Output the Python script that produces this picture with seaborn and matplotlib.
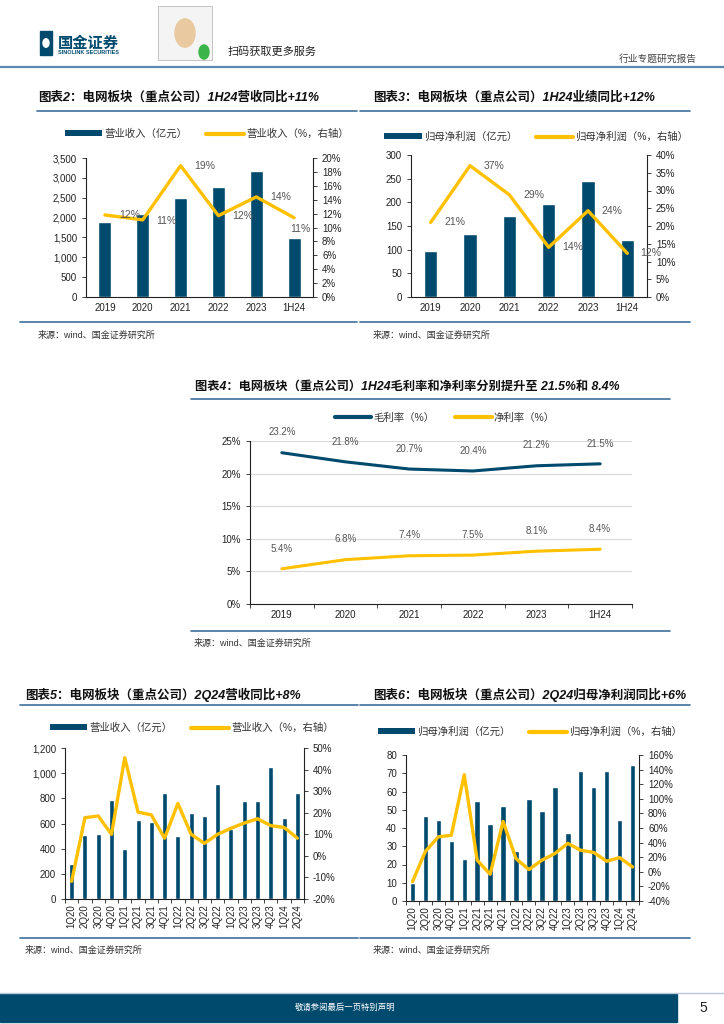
import numpy as np
import pandas as pd
import matplotlib
matplotlib.use("Agg")
import matplotlib.pyplot as plt
import seaborn as sns
from matplotlib.lines import Line2D
from matplotlib.patches import Patch, Rectangle, Circle
from matplotlib.ticker import FuncFormatter, MultipleLocator, FixedLocator

# data
years = ["2019", "2020", "2021", "2022", "2023", "1H24"]
rev = [1890, 2100, 2490, 2760, 3170, 1480]
rev_yoy = [11.8, 11.1, 18.9, 11.7, 14.4, 11.4]
np_val = [97, 134, 172, 196, 245, 120]
np_yoy = [21.0, 37.0, 28.8, 14.0, 24.3, 12.3]
gross_margin = [23.2, 21.8, 20.7, 20.4, 21.2, 21.5]
net_margin = [5.4, 6.8, 7.4, 7.5, 8.1, 8.4]

quarters = ["1Q20", "2Q20", "3Q20", "4Q20", "1Q21", "2Q21", "3Q21", "4Q21", "1Q22",
            "2Q22", "3Q22", "4Q22", "1Q23", "2Q23", "3Q23", "4Q23", "1Q24", "2Q24"]
q_rev = [275, 510, 518, 790, 400, 625, 610, 840, 502, 682, 660, 912, 560, 782, 775, 1050, 640, 840]
q_rev_yoy = [-11.8, 17.7, 18.5, 10.0, 45.5, 20.3, 19.0, 8.2, 24.3, 10.0, 5.8, 10.0, 12.8, 15.2, 17.2,
             14.0, 13.2, 8.2]
q_np = [10, 46.5, 44.5, 33, 23, 55, 42, 52, 27.5, 56, 49.5, 62.5, 37.5, 71.5, 62.5, 71, 44.5, 74.5]
q_np_yoy = [-13.5, 28.0, 48.0, 50.0, 133.0, 15.8, -3.4, 69.0, 18.0, 3.0, 16.0, 25.0, 39.0, 29.5, 26.5,
            14.5, 19.5, 6.7]

NAVY = "#004a6e"
YELLOW = "#ffc000"
RULE = "#3d719c"

sns.set_style("white")
plt.rcParams["font.family"] = ["Liberation Sans", "Noto Sans CJK SC"]
plt.rcParams["axes.linewidth"] = 0.8

W, H = 724, 1024
fig = plt.figure(figsize=(W / 100, H / 100), dpi=100)


def px_axes(x0, y0, x1, y1):
    return fig.add_axes([x0 / W, 1 - y1 / H, (x1 - x0) / W, (y1 - y0) / H])


def hline(x0, x1, y, color=RULE, lw=1.2):
    fig.add_artist(Line2D([x0 / W, x1 / W], [1 - y / H, 1 - y / H], color=color, lw=lw))


def ftext(x, y, s, **kw):
    fig.text(x / W, 1 - y / H, s, **kw)


def title(x, y, s, size=9):
    ftext(x, y, s, fontsize=size, fontweight="bold", color="#111111", va="center", style="italic")


def source(x, y):
    ftext(x, y, "来源：wind、国金证券研究所", fontsize=6.5, color="#333333", va="center")


def pct(v, pos):
    return f"{v:.0f}%"


def style_axes(ax, ax2=None, boundary_ticks=False, n=6):
    ax.spines["top"].set_visible(False)
    ax.spines["right"].set_visible(False)
    for s in ["left", "bottom"]:
        ax.spines[s].set_color("#222222")
    ax.tick_params(axis="y", which="major", direction="out", length=3, width=0.6,
                   labelsize=7, colors="#222222", labelcolor="#222222", left=True)
    ax.tick_params(axis="x", which="major", length=0, labelsize=7, labelcolor="#222222", pad=4)
    if boundary_ticks:
        ax.xaxis.set_minor_locator(FixedLocator(np.arange(-0.5, n, 1.0)))
        ax.tick_params(axis="x", which="minor", direction="out", length=3, width=0.6,
                       bottom=True, colors="#222222")
    if ax2 is not None:
        ax2.spines["top"].set_visible(False)
        ax2.spines["left"].set_visible(False)
        ax2.spines["bottom"].set_visible(False)
        ax2.spines["right"].set_color("#222222")
        ax2.tick_params(axis="y", direction="out", length=3, width=0.6, labelsize=7,
                        colors="#222222", right=True)
        ax2.yaxis.set_major_formatter(FuncFormatter(pct))
    ax.set_xlabel("")
    ax.set_ylabel("")


def combo(box, cats, bars, line, ylim, ystep, y2lim, y2step, bar_lab, line_lab,
          legend_y, width, rot=0, thousands=False, labels=None, boundary=False):
    ax = px_axes(*box)
    n = len(cats)
    sns.barplot(x=cats, y=bars, color=NAVY, saturation=1, width=width, ax=ax)
    ax2 = ax.twinx()
    df = pd.DataFrame({"pos": np.arange(n), "val": line})
    sns.lineplot(data=df, x="pos", y="val", color=YELLOW, lw=2.4, ax=ax2)
    ax.set_xlim(-0.5, n - 0.5)
    ax.set_ylim(*ylim)
    ax.yaxis.set_major_locator(MultipleLocator(ystep))
    ax2.set_ylim(*y2lim)
    ax2.yaxis.set_major_locator(MultipleLocator(y2step))
    if thousands:
        ax.yaxis.set_major_formatter(FuncFormatter(lambda v, p: f"{v:,.0f}"))
    style_axes(ax, ax2, boundary_ticks=boundary, n=n)
    ax2.set_ylabel("")
    ax.set_xticks(np.arange(n))
    ax.set_xticklabels(cats, rotation=rot, va="top")
    if labels is not None:
        for i, v in enumerate(line):
            dx, dy = labels[i]
            ax2.annotate(f"{v:.0f}%", (i, v), xytext=(dx, dy), textcoords="offset points",
                         fontsize=7.5, color="#555555", ha="left", va="center")
    handles = [Patch(facecolor=NAVY, edgecolor="none"),
               Line2D([], [], color=YELLOW, lw=3)]
    fig.legend(handles, [bar_lab, line_lab], loc="center",
               bbox_to_anchor=((box[0] + box[2]) / 2 / W + 0.01, 1 - legend_y / H),
               ncol=2, frameon=False, fontsize=7.5, handlelength=3.6, handleheight=0.5,
               columnspacing=1.8, handletextpad=0.2, labelcolor="#333333")
    return ax, ax2


# ---------------- header ----------------
fig.add_artist(Rectangle((40 / W, 1 - 55 / H), 12 / W, 24 / H, color=NAVY, transform=fig.transFigure))
fig.add_artist(Circle((46 / W, 1 - 43 / H), 3 / W, color="white", transform=fig.transFigure))
ftext(58, 44, "国金证券", fontsize=11, fontweight="bold", color=NAVY, va="center")
ftext(58, 52, "SINOLINK SECURITIES", fontsize=4, fontweight="bold", color=NAVY, va="center")
fig.add_artist(Rectangle((158 / W, 1 - 60 / H), 54 / W, 54 / H, facecolor="#f4f4f4",
                         edgecolor="#bbbbbb", lw=0.6, transform=fig.transFigure))
fig.add_artist(Circle((185 / W, 1 - 33 / H), 10 / W, color="#e8c9a0", transform=fig.transFigure))
fig.add_artist(Circle((204 / W, 1 - 52 / H), 5 / W, color="#3bb54a", transform=fig.transFigure))
ftext(228, 52, "扫码获取更多服务", fontsize=8, color="#222222", va="center")
ftext(697, 59, "行业专题研究报告", fontsize=7, color="#444444", ha="right", va="center")
hline(0, W, 67, color="#5a88b0", lw=1.6)

# ---------------- chart 2 ----------------
title(38, 97, "图表2：电网板块（重点公司）1H24营收同比+11%")
hline(37, 357, 111)
combo((86, 158, 313, 297), years, rev, rev_yoy, (0, 3500), 500, (0, 20), 2,
      "营业收入（亿元）", "营业收入（%，右轴）", 134, 0.34, thousands=True,
      labels=[(10, 0), (10, -1), (10, 0), (10, 0), (10, 0), (-3, -8)])
hline(20, 357, 322)
source(38, 335)

# ---------------- chart 3 ----------------
title(373, 97, "图表3：电网板块（重点公司）1H24业绩同比+12%")
hline(360, 690, 111)
combo((411, 155, 647, 297), years, np_val, np_yoy, (0, 300), 50, (0, 40), 5,
      "归母净利润（亿元）", "归母净利润（%，右轴）", 137, 0.34,
      labels=[(10, 0), (10, 0), (10, 0), (10, 0), (10, 0), (9, 0)])
hline(360, 690, 322)
source(373, 335)

# ---------------- chart 4 ----------------
title(195, 387, "图表4：电网板块（重点公司）1H24毛利率和净利率分别提升至 21.5%和 8.4%", size=8.8)
hline(191, 670, 399)
ax4 = px_axes(250, 441, 632, 604)
pos = np.arange(len(years))
sns.lineplot(x=pos, y=gross_margin, color=NAVY, lw=2.2, ax=ax4)
sns.lineplot(x=pos, y=net_margin, color=YELLOW, lw=2.2, ax=ax4)
ax4.set_xlim(-0.5, len(years) - 0.5)
ax4.set_ylim(0, 25)
ax4.yaxis.set_major_locator(MultipleLocator(5))
ax4.yaxis.set_major_formatter(FuncFormatter(pct))
ax4.grid(axis="y", color="#d9d9d9", lw=0.8)
ax4.set_axisbelow(True)
style_axes(ax4, None, boundary_ticks=True, n=len(years))
ax4.set_xticks(pos)
ax4.set_xticklabels(years)
for i in range(len(years)):
    ax4.annotate(f"{gross_margin[i]:.1f}%", (i, gross_margin[i]), xytext=(0, 11),
                 textcoords="offset points", fontsize=7, color="#555555", ha="center", va="bottom")
    ax4.annotate(f"{net_margin[i]:.1f}%", (i, net_margin[i]), xytext=(0, 11),
                 textcoords="offset points", fontsize=7, color="#555555", ha="center", va="bottom")
fig.legend([Line2D([], [], color=NAVY, lw=3), Line2D([], [], color=YELLOW, lw=3)],
           ["毛利率（%）", "净利率（%）"], loc="center", bbox_to_anchor=(445 / W, 1 - 418 / H),
           ncol=2, frameon=False, fontsize=7.5, handlelength=3.5, columnspacing=2.0,
           handletextpad=0.2, labelcolor="#333333")
hline(191, 670, 631)
source(194, 643)

# ---------------- chart 5 ----------------
title(25, 695, "图表5：电网板块（重点公司）2Q24营收同比+8%")
hline(20, 358, 705)
combo((65, 748, 304, 899), quarters, q_rev, q_rev_yoy, (0, 1200), 200, (-20, 50), 10,
      "营业收入（亿元）", "营业收入（%，右轴）", 728, 0.38, rot=90, thousands=True, boundary=True)
hline(20, 358, 938)
source(25, 950)

# ---------------- chart 6 ----------------
title(373, 695, "图表6：电网板块（重点公司）2Q24归母净利润同比+6%")
hline(360, 690, 705)
combo((406, 755, 639, 901), quarters, q_np, q_np_yoy, (0, 80), 10, (-40, 160), 20,
      "归母净利润（亿元）", "归母净利润（%，右轴）", 732, 0.42, rot=90, boundary=True)
hline(360, 690, 938)
source(373, 950)

# ---------------- footer ----------------
hline(0, W, 993, color="#b8c8d8", lw=1.0)
fig.add_artist(Rectangle((0, 1 - 1022 / H), 677 / W, 28 / H, color=NAVY, transform=fig.transFigure))
ftext(345, 1008, "敬请参阅最后一页特别声明", fontsize=6, color="white", ha="center", va="center")
ftext(703, 1008, "5", fontsize=10, color="#222222", ha="center", va="center")

fig.savefig("out.png", dpi=100)
